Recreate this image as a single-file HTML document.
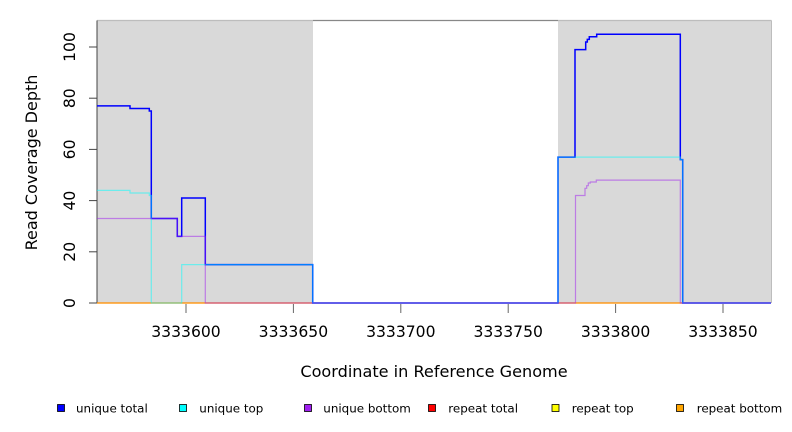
<!DOCTYPE html>
<html>
<head>
<meta charset="utf-8">
<style>
  html, body { margin: 0; padding: 0; background: #ffffff; }
  svg { display: block; }
  text { font-family: "DejaVu Sans", "Liberation Sans", sans-serif; fill: #000; }
</style>
</head>
<body>
<svg width="792" height="432" viewBox="0 0 792 432" xmlns="http://www.w3.org/2000/svg">
  <rect x="0" y="0" width="792" height="432" fill="#ffffff"/>

  <!-- shaded regions -->
  <rect x="97" y="20.5" width="216" height="282.5" fill="#d9d9d9"/>
  <rect x="558" y="20.5" width="213" height="282.5" fill="#d9d9d9"/>
  <line x1="771.5" y1="20.5" x2="771.5" y2="303" stroke="#bdbdbd" stroke-width="1"/>

  <!-- top frame line -->
  <line x1="97" y1="20.5" x2="313" y2="20.5" stroke="#bdbdbd" stroke-width="1.2"/>
  <line x1="313" y1="20.5" x2="558" y2="20.5" stroke="#888888" stroke-width="1.2"/>
  <line x1="558" y1="20.5" x2="771.5" y2="20.5" stroke="#bdbdbd" stroke-width="1.2"/>

  <!-- y axis -->
  <line x1="97" y1="20.5" x2="97" y2="303" stroke="#444" stroke-width="1"/>
  <g stroke="#444" stroke-width="1">
    <line x1="89" y1="303" x2="97" y2="303"/>
    <line x1="89" y1="251.8" x2="97" y2="251.8"/>
    <line x1="89" y1="200.6" x2="97" y2="200.6"/>
    <line x1="89" y1="149.4" x2="97" y2="149.4"/>
    <line x1="89" y1="98.2" x2="97" y2="98.2"/>
    <line x1="89" y1="47" x2="97" y2="47"/>
  </g>
  <g font-size="15.6" text-anchor="middle">
    <text transform="translate(75,303) rotate(-90)">0</text>
    <text transform="translate(75,251.8) rotate(-90)">20</text>
    <text transform="translate(75,200.6) rotate(-90)">40</text>
    <text transform="translate(75,149.4) rotate(-90)">60</text>
    <text transform="translate(75,98.2) rotate(-90)">80</text>
    <text transform="translate(75,47) rotate(-90)">100</text>
  </g>
  <text transform="translate(37,162.5) rotate(-90)" font-size="16" text-anchor="middle">Read Coverage Depth</text>

  <!-- x ticks -->
  <g stroke="#666" stroke-width="1">
    <line x1="186" y1="304" x2="186" y2="313"/>
    <line x1="293.4" y1="304" x2="293.4" y2="313"/>
    <line x1="400.8" y1="304" x2="400.8" y2="313"/>
    <line x1="508.2" y1="304" x2="508.2" y2="313"/>
    <line x1="615.6" y1="304" x2="615.6" y2="313"/>
    <line x1="723" y1="304" x2="723" y2="313"/>
  </g>
  <g font-size="15.6" text-anchor="middle">
    <text x="186" y="337">3333600</text>
    <text x="293.4" y="337">3333650</text>
    <text x="400.8" y="337">3333700</text>
    <text x="508.2" y="337">3333750</text>
    <text x="615.6" y="337">3333800</text>
    <text x="723" y="337">3333850</text>
  </g>
  <text x="434" y="377" font-size="16.1" text-anchor="middle">Coordinate in Reference Genome</text>

  <!-- repeat series (all zero) -->
  <line x1="97" y1="303" x2="771" y2="303" stroke="#ff0000" stroke-width="1.2" stroke-opacity="0.6"/>
  <line x1="97" y1="303" x2="771" y2="303" stroke="#ffa500" stroke-width="1.2" stroke-opacity="0.9"/>

  <!-- unique total -->
  <path d="M97,105.9 H130 V108.5 H149.3 V111 H151.3 V218.5 H177.3 V236.4 H181.7 V198 H205.3 V264.6 H312.7 V303 H558 V157.1 H575 V49.6 H585.7 V42 H587.3 V39.4 H589.3 V36.8 H596.7 V34.2 H680.3 V159.6 H682.7 V303 H771"
        fill="none" stroke="#0000ff" stroke-width="1.5"/>
  <!-- unique top -->
  <path d="M97,190.4 H130 V193 H149.3 V195.5 H151.3 V303 H181.7 V264.6 H312.7 V303 H558 V157.1 H680.3 V159.6 H682.7 V303 H771"
        fill="none" stroke="#00ffff" stroke-width="1.2" stroke-opacity="0.5"/>
  <!-- unique bottom -->
  <path d="M97,218.5 H177.3 V236.4 H205.3 V303 H575.5 V195.5 H585 V188.3 H586.7 V185.7 H588.3 V183 H590.3 V182 H596.3 V180.1 H680.3 V303 H771"
        fill="none" stroke="#a020f0" stroke-width="1.2" stroke-opacity="0.5"/>

  <!-- legend -->
  <g stroke="#000" stroke-width="0.8">
    <rect x="57.5" y="404.5" width="7" height="7" fill="#0000ff"/>
    <rect x="179.5" y="404.5" width="7" height="7" fill="#00ffff"/>
    <rect x="304.5" y="404.5" width="7" height="7" fill="#a020f0"/>
    <rect x="428.5" y="404.5" width="7" height="7" fill="#ff0000"/>
    <rect x="552" y="404.5" width="7" height="7" fill="#ffff00"/>
    <rect x="676.5" y="404.5" width="7" height="7" fill="#ffa500"/>
  </g>
  <g font-size="11.9">
    <text x="76" y="412.5">unique total</text>
    <text x="199.3" y="412.5">unique top</text>
    <text x="323.3" y="412.5">unique bottom</text>
    <text x="448.3" y="412.5">repeat total</text>
    <text x="571.7" y="412.5">repeat top</text>
    <text x="696.7" y="412.5">repeat bottom</text>
  </g>
</svg>
</body>
</html>
